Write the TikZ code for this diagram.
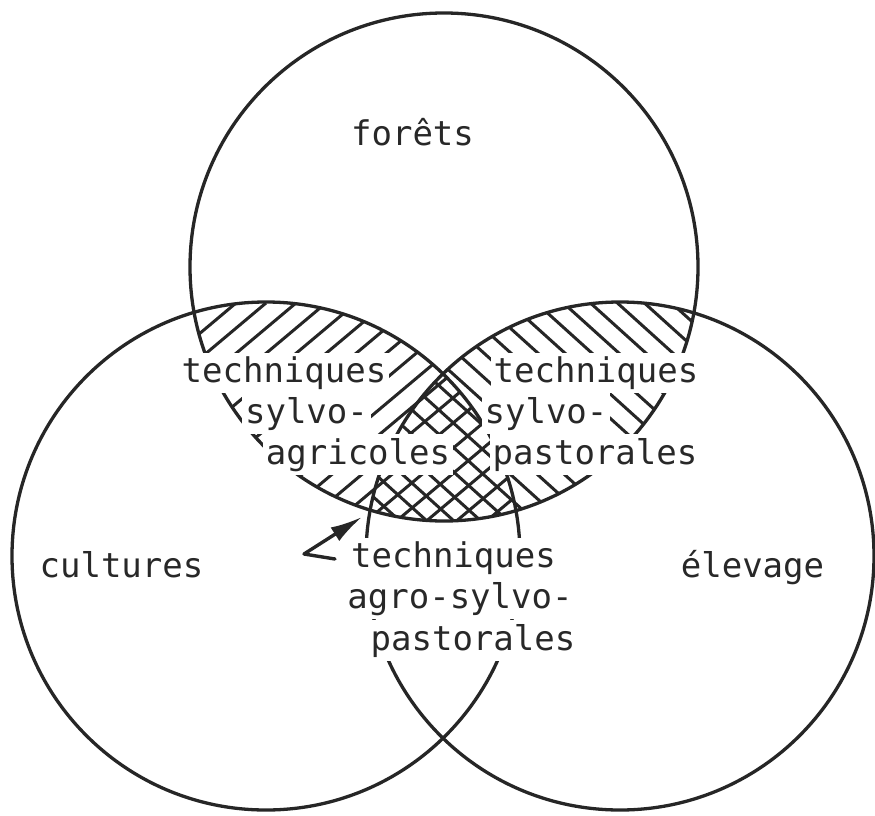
\documentclass[tikz,border=0pt]{standalone}
\usepackage{fontspec}
\newfontfamily\labelfont{DejaVu Sans Mono}
\usetikzlibrary{arrows.meta}
\definecolor{ink}{RGB}{38,38,38}
\definecolor{txt}{RGB}{40,40,40}
\begin{document}
\begin{tikzpicture}[x=1pt,y=-1pt,
  ring/.style={draw=ink, line width=3.3pt},
  hatchline/.style={draw=ink, line width=3pt},
  lbl/.style={font=\labelfont\fontsize{34}{40}\selectfont, text=txt, anchor=base, fill=white, inner xsep=3pt, inner ysep=3.5pt},
  pointer/.style={draw=ink, line width=3.4pt, line cap=round, line join=round, -{Latex[length=32pt,width=16pt]}}]
\useasboundingbox (0,0) rectangle (875,816);
\coordinate (cF) at (444,267);
\coordinate (cC) at (266,556);
\coordinate (cE) at (620,556);
% hatching forest / cultures
\begin{scope}
  \clip (cF) circle[radius=254pt];
  \clip (cC) circle[radius=254pt];
  \foreach \c in {-160,-130,...,580} \draw[hatchline] (\c,560) -- ++(306,-257);
\end{scope}
% hatching forest / elevage
\begin{scope}
  \clip (cF) circle[radius=254pt];
  \clip (cE) circle[radius=254pt];
  \foreach \c in {90,117,...,730} \draw[hatchline] (\c,290) -- ++(297,268);
\end{scope}
% circles
\draw[ring] (cF) circle[radius=254pt];
\draw[ring] (cC) circle[radius=254pt];
\draw[ring] (cE) circle[radius=254pt];
% labels
\node[lbl] (forets) at (412.5,145) {forêts};
\node[lbl] (cult) at (121.5,577) {cultures};
\node[lbl] (elev) at (752.5,577) {élevage};
\node[lbl] (saA) at (284,382) {techniques};
\node[lbl] (saB) at (306.5,423) {sylvo-};
\node[lbl] (saC) at (358,464) {agricoles};
\node[lbl] (spA) at (596,382) {techniques};
\node[lbl] (spB) at (546,423) {sylvo-};
\node[lbl] (spC) at (595,464) {pastorales};
\node[lbl] (aspA) at (453.5,567) {techniques};
\node[lbl] (aspB) at (460,608) {agro-sylvo-};
\node[lbl] (aspC) at (473,650) {pastorales};
% pointer
\coordinate (aS) at (335,559);
\coordinate (aK) at (304,554);
\coordinate (aT) at (362,517);
\draw[pointer] (aS) -- (aK) -- (aT);
\end{tikzpicture}
\end{document}
